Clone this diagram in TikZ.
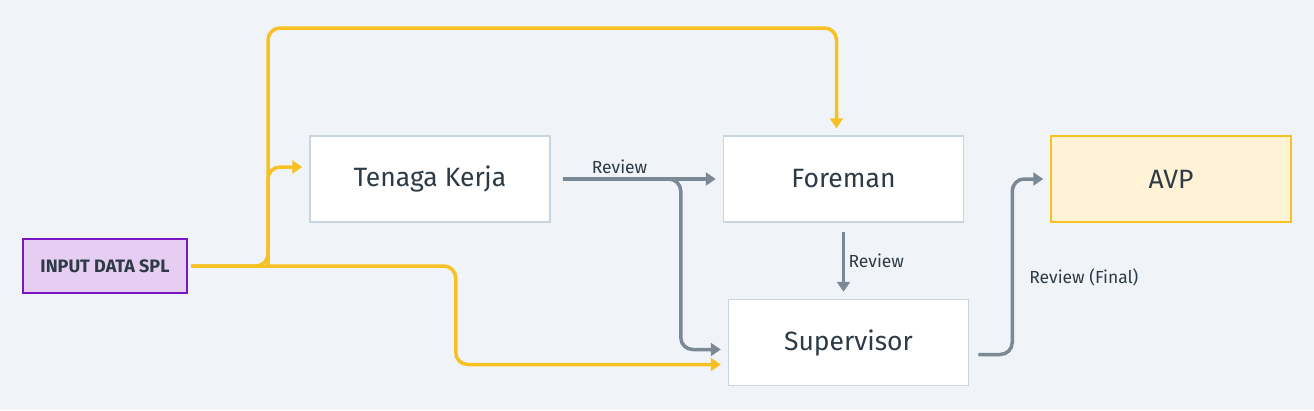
\documentclass[tikz,border=0pt]{standalone}
\usepackage{fontspec}
\setmainfont{Fira Sans}
\usepackage{tikz}
\usetikzlibrary{positioning}
\usetikzlibrary{calc, arrows.meta}
\definecolor{bgcol}{HTML}{F0F4F8}
\definecolor{inkcol}{HTML}{2E3A46}
\definecolor{boxline}{HTML}{C9D5DE}
\definecolor{gold}{HTML}{F7C124}
\definecolor{slate}{HTML}{7B8895}
\definecolor{plum}{HTML}{7A16C2}
\definecolor{plumfill}{HTML}{E6CEF2}
\definecolor{avpfill}{HTML}{FFF2D5}
\tikzstyle{box} = [draw=boxline,line width=1.5pt,fill=white,minimum width=240pt,minimum height=86pt,text=inkcol,font=\fontsize{26.5}{30}\selectfont]
\tikzstyle{arrow} = [line width=3.5pt,->,>={Triangle[length=10pt,width=13pt]},rounded corners=12pt,shorten >=7pt]
\tikzstyle{goldarrow} = [arrow,draw=gold]
\tikzstyle{greyarrow} = [arrow,draw=slate,shorten <=9pt]
\tikzstyle{lbl} = [text=inkcol,font=\fontsize{17.5}{20}\selectfont]

\begin{document}
\begin{tikzpicture}[x=1pt,y=-1pt]
	\fill[bgcol] (0,0) rectangle (1314,410);
	\useasboundingbox (0,0) rectangle (1314,410);

	%Nodes
	\node [draw=plum,line width=2pt,fill=plumfill,minimum width=164pt,minimum height=54pt,text=inkcol,font=\fontsize{18}{20}\selectfont\bfseries] (input) at (105,266) {INPUT DATA SPL};
	\node [box] (tenaga) at (430,179) {Tenaga Kerja};
	\node [box, right=172pt of tenaga] (foreman) {Foreman};
	\node [box, below=76pt of foreman, xshift=5pt] (supervisor) {Supervisor};
	\node [box, draw=gold, fill=avpfill, right=86pt of foreman] (avp) {AVP};

	\coordinate [xshift=80pt] (splitY) at (input.east);

	%Lines
	\draw[goldarrow, shorten <=3pt] (input.east) -| ($(splitY)+(0,-238)$) -| ($(foreman.north)+(-7,0)$);
	\draw[goldarrow] (splitY) |- ($(tenaga.west)+(0,-12)$);
	\draw[goldarrow, shorten <=3pt] (input.east) -| ($(supervisor.west)+(-272,22)$) -- ($(supervisor.west)+(0,22)$);

	\draw[greyarrow, shorten <=12pt] (tenaga.east) -- node[lbl, above, pos=0.4] {Review} (foreman.west);
	\draw[greyarrow, shorten <=12pt] (tenaga.east) -| ($(supervisor.west)+(-47,7)$) -- ($(supervisor.west)+(0,7)$);
	\draw[greyarrow] (foreman.south) -- node[lbl, right] {Review} (foreman.south |- supervisor.north);
	\draw[greyarrow] ($(supervisor.east)+(0,12)$) -| node[lbl, pos=0.72, right=12pt] {Review (Final)} ($(avp.west)+(-38,0)$) -- (avp.west);
\end{tikzpicture}
\end{document}
